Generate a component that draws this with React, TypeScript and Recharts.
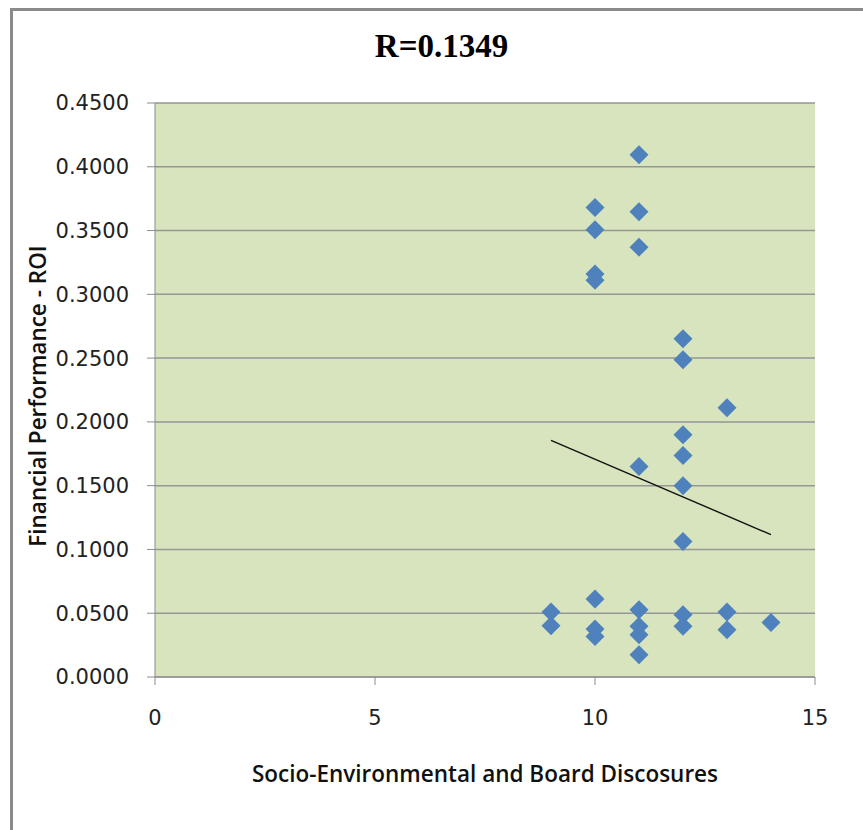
import React from 'react';
import { ScatterChart, Scatter, XAxis, YAxis, CartesianGrid, ReferenceLine, Label } from 'recharts';

// Socio-environmental and board disclosure score of each firm
const disclosures = [
    9, 9,
    10, 10, 10, 10, 10, 10, 10,
    11, 11, 11, 11, 11, 11, 11, 11,
    12, 12, 12, 12, 12, 12, 12, 12,
    13, 13, 13,
    14,
];

// ROI of each firm, same order as above
const roi = [
    0.051, 0.0402,
    0.368, 0.3507, 0.316, 0.311, 0.0611, 0.0376, 0.0318,
    0.4095, 0.3648, 0.337, 0.1651, 0.0528, 0.0397, 0.0332, 0.0175,
    0.2652, 0.2487, 0.19, 0.1737, 0.15, 0.1063, 0.0488, 0.0397,
    0.2111, 0.051, 0.0371,
    0.0428,
];

// linear trendline ends
const trendX = [9, 14];
const trendY = [0.1855, 0.1116];

const xTicks = [0, 5, 10, 15];
const yTicks = [0, 0.05, 0.1, 0.15, 0.2, 0.25, 0.3, 0.35, 0.4, 0.45];

const points = disclosures.map((x, i) => ({ x, y: roi[i] }));

const tickFont = { fontFamily: 'DejaVu Sans', fontSize: 21, fill: '#222' };
const labelFont = { fontFamily: 'Open Sans', fontSize: 22.5, fontWeight: 600, fill: '#111' };

const Diamond = (props: any) => {
    const { cx, cy } = props;
    const r = 9.5;
    return (
        <polygon
            points={`${cx},${cy - r} ${cx + r},${cy} ${cx},${cy + r} ${cx - r},${cy}`}
            fill="#4F81BD"
        />
    );
};

export default function App() {
    return (
        <div
            style={{
                position: 'absolute',
                left: 10,
                top: 8,
                width: 853,
                height: 822,
                overflow: 'hidden',
                borderLeft: '3px solid #8a8a8a',
                borderTop: '3px solid #8a8a8a',
                background: '#fff',
            }}
        >
            <div
                style={{
                    position: 'absolute',
                    left: 0,
                    top: 19,
                    width: 857,
                    textAlign: 'center',
                    fontFamily: 'Liberation Serif',
                    fontWeight: 'bold',
                    fontSize: 33,
                    lineHeight: '33px',
                    color: '#000',
                }}
            >
                R=0.1349
            </div>
            <ScatterChart width={850} height={819} margin={{ top: 92, right: 48, left: 0, bottom: 0 }}>
                <CartesianGrid
                    horizontal
                    vertical={false}
                    fill="#D7E4BD"
                    fillOpacity={1}
                    stroke="#969696"
                    strokeWidth={1.5}
                />
                <XAxis
                    type="number"
                    dataKey="x"
                    domain={[0, 15]}
                    ticks={xTicks}
                    height={153}
                    stroke="#8c8c8c"
                    tickSize={8}
                    tickMargin={25}
                    tick={tickFont}
                >
                    <Label
                        content={({ viewBox }: any) => (
                            <text
                                x={viewBox.x + viewBox.width / 2}
                                y={viewBox.y + 105}
                                textAnchor="middle"
                                {...labelFont}
                            >
                                Socio-Environmental and Board Discosures
                            </text>
                        )}
                    />
                </XAxis>
                <YAxis
                    type="number"
                    dataKey="y"
                    domain={[0, 0.45]}
                    ticks={yTicks}
                    width={142}
                    stroke="#8c8c8c"
                    tickSize={8}
                    tickMargin={18}
                    tick={tickFont}
                    tickFormatter={(v: number) => v.toFixed(4)}
                >
                    <Label
                        content={({ viewBox }: any) => {
                            const cx = 24;
                            const cy = viewBox.y + viewBox.height / 2 + 6;
                            return (
                                <text
                                    x={cx}
                                    y={cy}
                                    textAnchor="middle"
                                    dominantBaseline="central"
                                    transform={`rotate(-90, ${cx}, ${cy})`}
                                    {...labelFont}
                                >
                                    Financial Performance - ROI
                                </text>
                            );
                        }}
                    />
                </YAxis>
                <Scatter data={points} shape={Diamond} isAnimationActive={false} />
                <ReferenceLine
                    segment={[
                        { x: trendX[0], y: trendY[0] },
                        { x: trendX[1], y: trendY[1] },
                    ]}
                    stroke="#111"
                    strokeWidth={1.4}
                />
            </ScatterChart>
        </div>
    );
}
